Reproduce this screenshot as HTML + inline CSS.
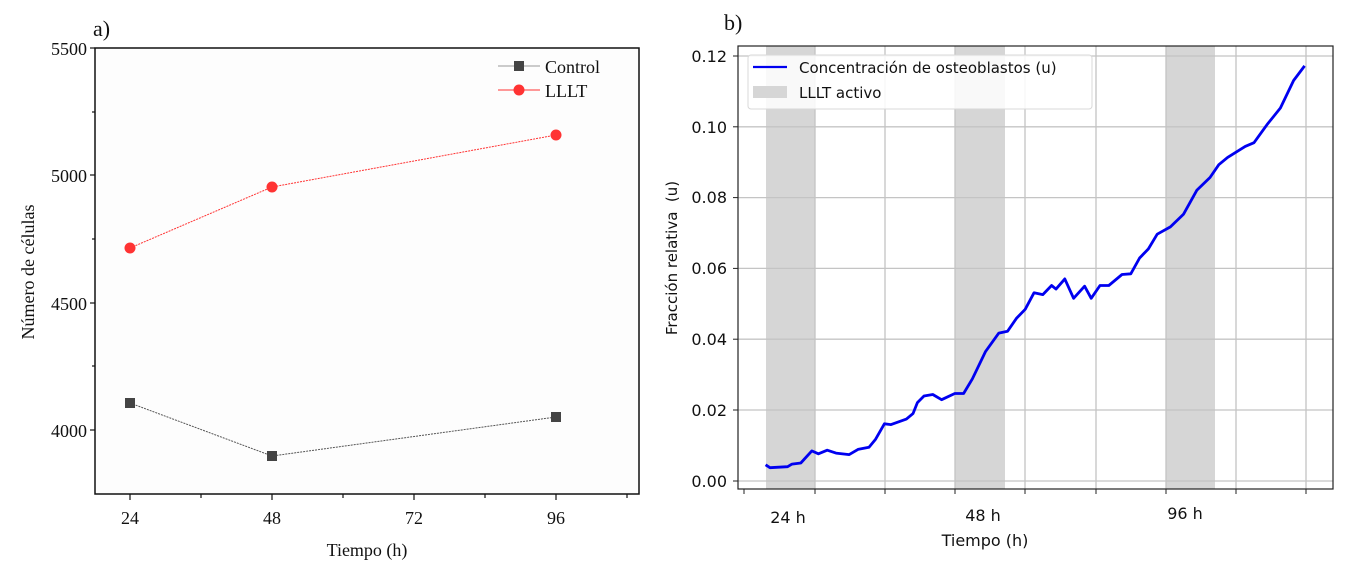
<!DOCTYPE html>
<html><head><meta charset="utf-8"><style>
html,body{margin:0;padding:0;background:#fff;width:1350px;height:574px;overflow:hidden}
</style></head><body>
<svg width="1350" height="574" viewBox="0 0 1350 574" xmlns="http://www.w3.org/2000/svg">
<rect width="1350" height="574" fill="#fff"/>
<!-- Chart a -->
<g font-family="Liberation Serif, serif" fill="#111">
<text x="93" y="36" font-size="22">a)</text>
<rect x="95" y="48" width="544" height="446" fill="#fdfdfd" stroke="#111" stroke-width="1.5"/>
<g stroke="#111" stroke-width="1.2">
<line x1="90" y1="48" x2="95" y2="48"/><line x1="92" y1="112" x2="95" y2="112"/>
<line x1="90" y1="175" x2="95" y2="175"/><line x1="92" y1="239" x2="95" y2="239"/>
<line x1="90" y1="303" x2="95" y2="303"/><line x1="92" y1="366" x2="95" y2="366"/>
<line x1="90" y1="430" x2="95" y2="430"/>
<line x1="130" y1="494" x2="130" y2="500"/><line x1="201" y1="494" x2="201" y2="498"/>
<line x1="272" y1="494" x2="272" y2="500"/><line x1="343" y1="494" x2="343" y2="498"/>
<line x1="414" y1="494" x2="414" y2="500"/><line x1="485" y1="494" x2="485" y2="498"/>
<line x1="556" y1="494" x2="556" y2="500"/><line x1="627" y1="494" x2="627" y2="498"/>
</g>
<g font-size="18" text-anchor="end">
<text x="87" y="55">5500</text><text x="87" y="182">5000</text>
<text x="87" y="310">4500</text><text x="87" y="437">4000</text>
</g>
<g font-size="18" text-anchor="middle">
<text x="130" y="524">24</text><text x="272" y="524">48</text>
<text x="414" y="524">72</text><text x="556" y="524">96</text>
<text x="367" y="556">Tiempo (h)</text>
</g>
<text transform="translate(34,272) rotate(-90)" font-size="18" text-anchor="middle">Número de células</text>
<polyline points="130,403 272,456 556,417" fill="none" stroke="#555" stroke-width="1" stroke-dasharray="2,1"/>
<polyline points="130,248 272,187 556,135" fill="none" stroke="#f33" stroke-width="1" stroke-dasharray="2,1"/>
<g fill="#444"><rect x="125" y="398" width="10" height="10"/><rect x="267" y="451" width="10" height="10"/><rect x="551" y="412" width="10" height="10"/></g>
<g fill="#f33"><circle cx="130" cy="248" r="5.5"/><circle cx="272" cy="187" r="5.5"/><circle cx="556" cy="135" r="5.5"/></g>
<line x1="498" y1="66" x2="540" y2="66" stroke="#999" stroke-width="1"/>
<rect x="514" y="61" width="10" height="10" fill="#444"/>
<line x1="498" y1="90" x2="540" y2="90" stroke="#f33" stroke-width="1"/>
<circle cx="519" cy="90" r="5.5" fill="#f33"/>
<text x="545" y="73" font-size="18">Control</text>
<text x="545" y="97" font-size="18">LLLT</text>
</g>
<!-- Chart b -->
<g font-family="DejaVu Sans, Liberation Sans, sans-serif" fill="#111">
<text x="724" y="30" font-size="22" font-family="Liberation Serif, serif">b)</text>
<g fill="#d6d6d6">
<rect x="766" y="46" width="49" height="443"/><rect x="955" y="46" width="50" height="443"/><rect x="1166" y="46" width="49" height="443"/>
</g>
<g stroke="#c4c4c4" stroke-width="1.3">
<line x1="738" y1="56" x2="1333" y2="56"/><line x1="738" y1="126.8" x2="1333" y2="126.8"/>
<line x1="738" y1="197.6" x2="1333" y2="197.6"/><line x1="738" y1="268.4" x2="1333" y2="268.4"/>
<line x1="738" y1="339.2" x2="1333" y2="339.2"/><line x1="738" y1="410" x2="1333" y2="410"/>
<line x1="738" y1="481" x2="1333" y2="481"/>
<line x1="815" y1="46" x2="815" y2="489"/><line x1="885" y1="46" x2="885" y2="489"/>
<line x1="955" y1="46" x2="955" y2="489"/><line x1="1025" y1="46" x2="1025" y2="489"/>
<line x1="1096" y1="46" x2="1096" y2="489"/><line x1="1166" y1="46" x2="1166" y2="489"/>
<line x1="1236" y1="46" x2="1236" y2="489"/><line x1="1306" y1="46" x2="1306" y2="489"/>
</g>
<rect x="738" y="46" width="595" height="443" fill="none" stroke="#222" stroke-width="1.2"/>
<g stroke="#222" stroke-width="1">
<line x1="744" y1="489" x2="744" y2="494"/><line x1="815" y1="489" x2="815" y2="494"/>
<line x1="885" y1="489" x2="885" y2="494"/><line x1="955" y1="489" x2="955" y2="494"/>
<line x1="1025" y1="489" x2="1025" y2="494"/><line x1="1096" y1="489" x2="1096" y2="494"/>
<line x1="1166" y1="489" x2="1166" y2="494"/><line x1="1236" y1="489" x2="1236" y2="494"/>
<line x1="1306" y1="489" x2="1306" y2="494"/>
<line x1="733" y1="56" x2="738" y2="56"/><line x1="733" y1="126.8" x2="738" y2="126.8"/>
<line x1="733" y1="197.6" x2="738" y2="197.6"/><line x1="733" y1="268.4" x2="738" y2="268.4"/>
<line x1="733" y1="339.2" x2="738" y2="339.2"/><line x1="733" y1="410" x2="738" y2="410"/>
<line x1="733" y1="481" x2="738" y2="481"/>
</g>
<g font-size="16" text-anchor="end">
<text x="727" y="62">0.12</text><text x="727" y="133">0.10</text><text x="727" y="203">0.08</text>
<text x="727" y="274">0.06</text><text x="727" y="345">0.04</text><text x="727" y="416">0.02</text>
<text x="727" y="487">0.00</text>
</g>
<g font-size="16" text-anchor="middle">
<text x="788" y="523">24 h</text><text x="983" y="521">48 h</text><text x="1185" y="519">96 h</text>
<text x="985" y="546">Tiempo (h)</text>
</g>
<text transform="translate(677,258) rotate(-90)" font-size="15" text-anchor="middle" xml:space="preserve">Fracción relativa  (u)</text>
<polyline fill="none" stroke="#0000f0" stroke-width="2.8" stroke-linejoin="round" points="765.6,464.8 770,467.7 787.6,466.7 792,464.1 800.8,463 811.8,450.9 818.4,453.8 827.2,450.2 836,453.1 849.2,454.6 858,449.4 869,447.3 875.6,439.2 884.4,423.8 891,424.6 906.4,419.1 913,413.6 917.4,402.6 924,396 932.8,394.5 941.6,399.7 954.8,393.5 963.6,393.5 972.4,378.8 985.6,351.4 998.8,333.1 1007.6,331.2 1016.4,318.4 1025.2,309.3 1034,292.8 1042.8,294.6 1051.6,285.5 1056,289.1 1064.8,278.9 1073.6,298.3 1084.6,286.2 1091.2,298.3 1100,285.5 1108.8,285.5 1122,274.5 1130.8,273.8 1139.6,258 1148.4,248.9 1157.2,234.2 1170.4,226.9 1183.6,214.1 1196.8,190.3 1210,177.5 1218.8,164.7 1227.6,157.4 1245.2,146.4 1254,142.7 1267.2,124.4 1280.4,108 1293.6,80.5 1304.6,65.9"/>
<rect x="748" y="55" width="344" height="54" rx="3" fill="#fff" fill-opacity="0.85" stroke="#d8d8d8"/>
<line x1="753" y1="67" x2="787" y2="67" stroke="#0000f0" stroke-width="2.2"/>
<rect x="753" y="86" width="34" height="12" fill="#d6d6d6"/>
<text x="799" y="73" font-size="15">Concentración de osteoblastos (u)</text>
<text x="799" y="98" font-size="15">LLLT activo</text>
</g>
</svg>
</body></html>
